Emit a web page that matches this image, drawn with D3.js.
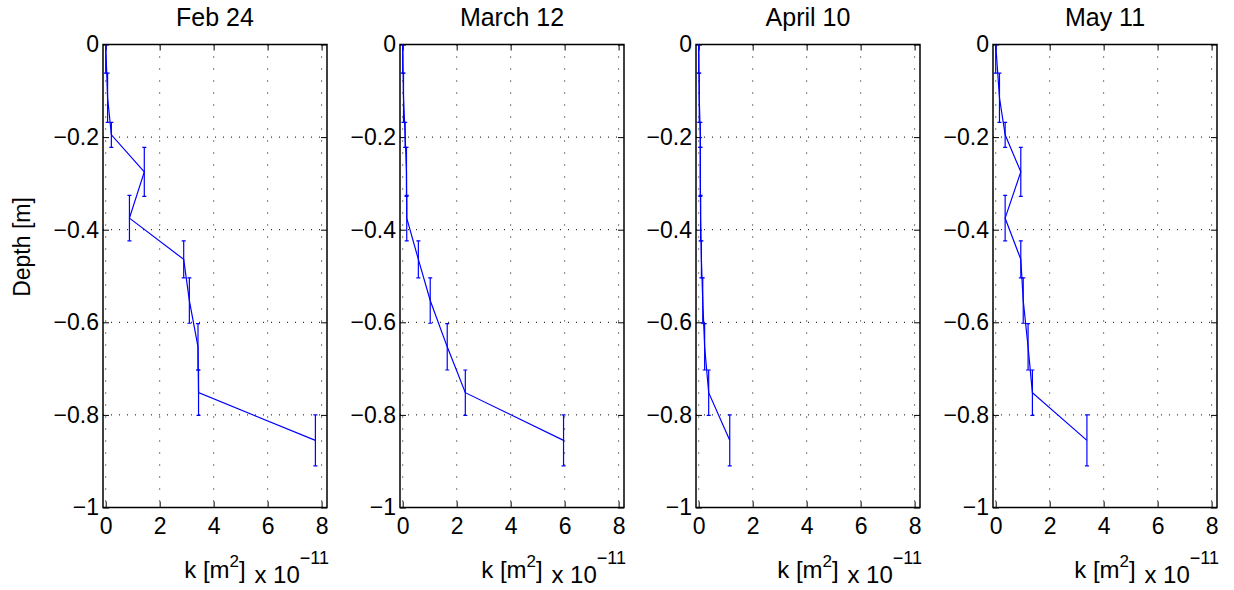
<!DOCTYPE html>
<html>
<head>
<meta charset="utf-8">
<script src="https://cdn.jsdelivr.net/npm/d3@7"></script>
<style>
  html, body { margin: 0; padding: 0; background: #fff; }
  svg { display: block; font-family: "Liberation Sans", Arial, Helvetica, sans-serif; }
  .tick line { stroke: #000; }
  .domain { display: none; }
</style>
</head>
<body>
<div id="chart"></div>
<script>
// -------------------------------------------------------------------------
// Data

const panelTitles = ['Feb 24', 'March 12', 'April 10', 'May 11'];

// layer mid depths [m] and half thickness (vertical error bars)
const depthMid = [0, -0.115, -0.195, -0.275, -0.375, -0.464, -0.553, -0.653, -0.752, -0.855];
const depthHalf = [0.062, 0.053, 0.027, 0.053, 0.049, 0.040, 0.049, 0.050, 0.049, 0.055];

// permeability k, in units of 1e-11 m^2
const kFeb24 = [0.0, 0.07, 0.21, 1.43, 0.88, 2.89, 3.10, 3.42, 3.44, 7.77];
const kMar12 = [0.0, 0.03, 0.09, 0.14, 0.15, 0.58, 1.02, 1.65, 2.32, 5.96];
const kApr10 = [0.0, 0.02, 0.06, 0.06, 0.07, 0.10, 0.15, 0.22, 0.37, 1.15];
const kMay11 = [0.0, 0.14, 0.35, 0.93, 0.35, 0.93, 1.02, 1.20, 1.36, 3.38];

const xTicks = [0, 2, 4, 6, 8];
const yTicks = [0, -0.2, -0.4, -0.6, -0.8, -1];
const yTickLabels = ['0', '\u22120.2', '\u22120.4', '\u22120.6', '\u22120.8', '\u22121'];

const series = [kFeb24, kMar12, kApr10, kMay11];

// -------------------------------------------------------------------------
// Layout

const chartW = 1234;
const chartH = 590;
const panelLeft = [103, 400, 696, 993];
const panelW = 224;
const panelTop = 44.5;
const panelH = 463;
const blue = '#0000ff';

const svg = d3.select('#chart')
  .append('svg')
  .attr('width', chartW)
  .attr('height', chartH);

series.forEach(function(kValues, p) {
  let x = d3.scaleLinear().domain([-0.1, 8.2]).range([0, panelW]);
  let y = d3.scaleLinear().domain([-1, 0]).range([panelH, 0]);

  let g = svg.append('g')
    .attr('transform', `translate(${panelLeft[p]},${panelTop})`);

  g.append('clipPath')
    .attr('id', `clip${p}`)
    .append('rect')
    .attr('width', panelW)
    .attr('height', panelH);

  // dotted grid
  g.selectAll('.vgrid')
    .data(xTicks)
    .enter()
    .append('line')
    .attr('x1', d => x(d)).attr('x2', d => x(d))
    .attr('y1', 0).attr('y2', panelH)
    .attr('stroke', '#000')
    .attr('stroke-width', 1)
    .attr('stroke-dasharray', '1 11');

  g.selectAll('.hgrid')
    .data(yTicks.filter(d => d !== 0 && d !== -1))
    .enter()
    .append('line')
    .attr('x1', 0).attr('x2', panelW)
    .attr('y1', d => y(d)).attr('y2', d => y(d))
    .attr('stroke', '#000')
    .attr('stroke-width', 1)
    .attr('stroke-dasharray', '1 7');

  // axes, ticks pointing inward like matlab
  g.append('g')
    .attr('transform', `translate(0,${panelH})`)
    .call(d3.axisBottom(x).tickValues(xTicks).tickSize(-6).tickSizeOuter(0).tickPadding(10))
    .call(a => a.selectAll('text').attr('font-size', 23).attr('fill', '#000'));

  g.append('g')
    .call(d3.axisTop(x).tickValues(xTicks).tickSize(-6).tickSizeOuter(0).tickFormat(''));

  g.append('g')
    .call(d3.axisLeft(y).tickValues(yTicks).tickSize(-6).tickSizeOuter(0).tickPadding(4)
      .tickFormat((d, i) => yTickLabels[i]))
    .call(a => a.selectAll('text').attr('font-size', 23).attr('fill', '#000'));

  g.append('g')
    .attr('transform', `translate(${panelW},0)`)
    .call(d3.axisRight(y).tickValues(yTicks).tickSize(-6).tickSizeOuter(0).tickFormat(''));

  g.append('rect')
    .attr('width', panelW)
    .attr('height', panelH)
    .attr('fill', 'none')
    .attr('stroke', '#000')
    .attr('stroke-width', 1.5);

  let points = kValues.map((k, i) => ({ k: k, d: depthMid[i], e: depthHalf[i] }));

  let plot = g.append('g').attr('clip-path', `url(#clip${p})`);

  let line = d3.line()
    .x(d => x(d.k))
    .y(d => y(d.d));

  plot.append('path')
    .datum(points)
    .attr('d', line)
    .attr('fill', 'none')
    .attr('stroke', blue)
    .attr('stroke-width', 1.2);

  // error bars in depth
  let bars = plot.selectAll('.bar')
    .data(points)
    .enter()
    .append('g')
    .attr('stroke', blue)
    .attr('stroke-width', 1.2);
  bars.append('line')
    .attr('x1', d => x(d.k)).attr('x2', d => x(d.k))
    .attr('y1', d => y(d.d + d.e)).attr('y2', d => y(d.d - d.e));
  bars.append('line')
    .attr('x1', d => x(d.k) - 2).attr('x2', d => x(d.k) + 2)
    .attr('y1', d => y(d.d + d.e)).attr('y2', d => y(d.d + d.e));
  bars.append('line')
    .attr('x1', d => x(d.k) - 2).attr('x2', d => x(d.k) + 2)
    .attr('y1', d => y(d.d - d.e)).attr('y2', d => y(d.d - d.e));

  // title
  svg.append('text')
    .attr('x', panelLeft[p] + panelW / 2)
    .attr('y', 26)
    .attr('text-anchor', 'middle')
    .attr('font-size', 25)
    .text(panelTitles[p]);

  // x label and exponent
  let xl = svg.append('text')
    .attr('x', panelLeft[p] + panelW / 2)
    .attr('y', 578)
    .attr('text-anchor', 'middle')
    .attr('font-size', 24);
  xl.append('tspan').text('k [m');
  xl.append('tspan').attr('dy', -11).attr('font-size', 17).text('2');
  xl.append('tspan').attr('dy', 11).text(']');

  let ex = svg.append('text')
    .attr('x', panelLeft[p] + panelW + 2)
    .attr('y', 583)
    .attr('text-anchor', 'end')
    .attr('font-size', 24);
  ex.append('tspan').text('x 10');
  ex.append('tspan').attr('dy', -19).attr('font-size', 18).text('\u221211');
});

svg.append('text')
  .attr('transform', 'translate(30,247) rotate(-90)')
  .attr('text-anchor', 'middle')
  .attr('font-size', 23)
  .text('Depth [m]');
</script>
</body>
</html>
